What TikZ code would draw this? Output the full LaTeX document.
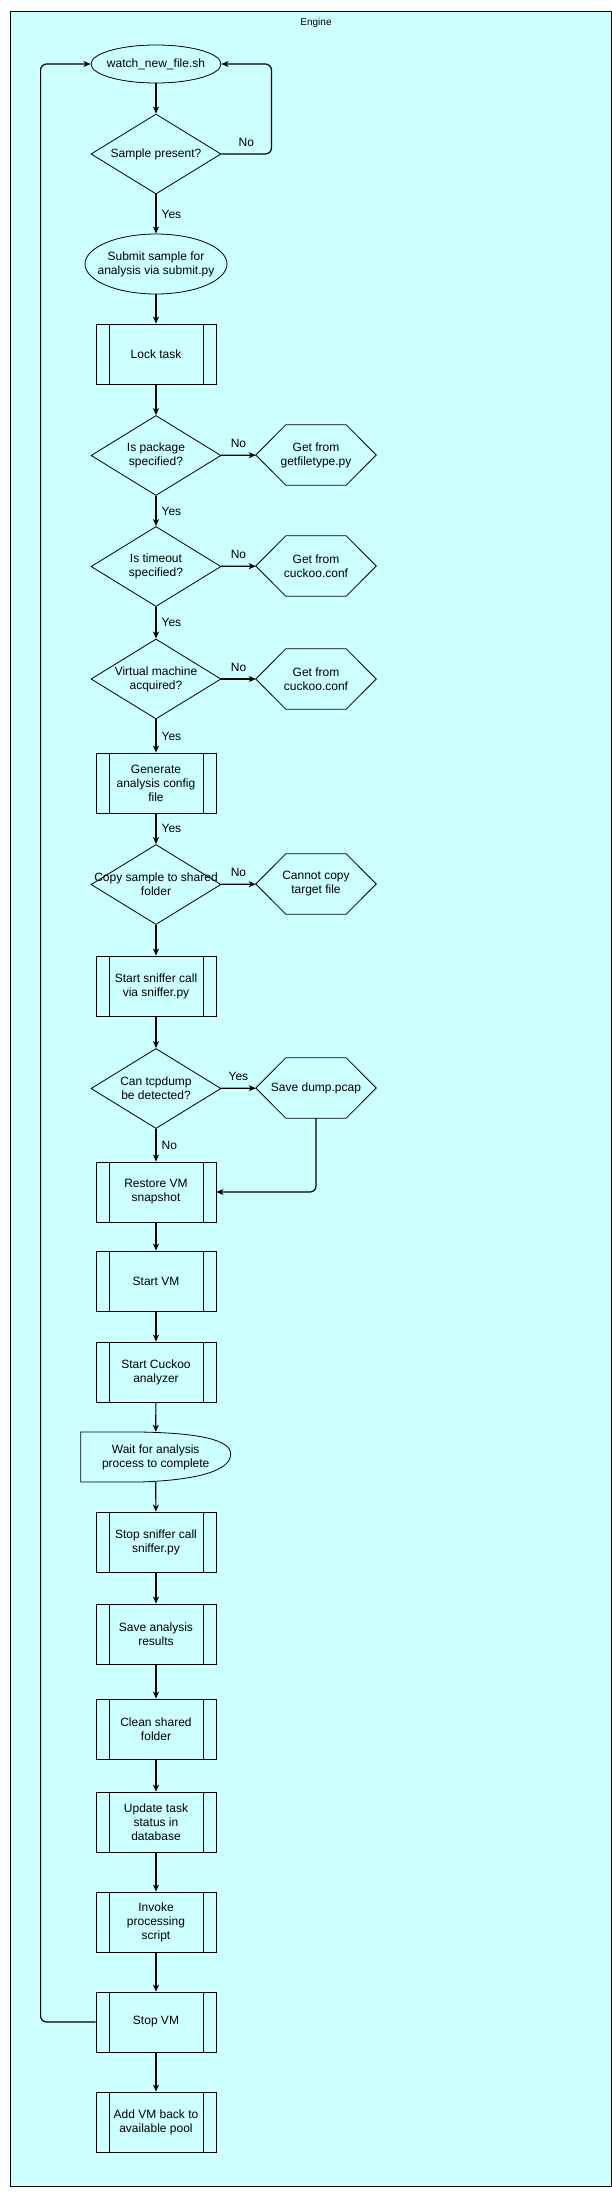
\documentclass[tikz,border=0pt]{standalone}
\usepackage{fontspec}
\setmainfont{Liberation Sans}
\usetikzlibrary{shapes.geometric,arrows.meta}
\definecolor{bgcyan}{HTML}{CCFFFF}
\tikzset{
  every node/.style={font=\fontsize{12}{14}\selectfont},
  outline/.style={draw, line width=0.8pt},
  intext/.style={align=center, inner sep=0pt},
  startend/.style={outline, ellipse, fill=bgcyan, inner sep=0pt},
  decision/.style={outline, diamond, fill=bgcyan, minimum width=130pt, minimum height=80pt, inner sep=0pt},
  subproc/.style={outline, rectangle, fill=bgcyan, align=center, minimum width=120pt, minimum height=60pt,
    path picture={\draw[line width=0.8pt]
      ([xshift=13pt]path picture bounding box.north west) -- ([xshift=13pt]path picture bounding box.south west)
      ([xshift=-13pt]path picture bounding box.north east) -- ([xshift=-13pt]path picture bounding box.south east);}},
  prep/.style={align=center, minimum width=120pt, minimum height=60pt, inner sep=0pt,
    append after command={\pgfextra{\draw[outline] (\tikzlastnode.west) -- ([xshift=30pt]\tikzlastnode.north west)
      -- ([xshift=-30pt]\tikzlastnode.north east) -- (\tikzlastnode.east) -- ([xshift=-30pt]\tikzlastnode.south east)
      -- ([xshift=30pt]\tikzlastnode.south west) -- cycle;}}},
  flow/.style={-{Stealth[length=7pt,width=6pt,inset=2pt]}, line width=1.2pt, rounded corners=6pt},
  lbl/.style={inner sep=2pt},
}
\begin{document}
\begin{tikzpicture}[x=1pt, y=-1pt]
\useasboundingbox (0,0) rectangle (612,2195);
% the engine frame
\draw[outline, fill=bgcyan] (10.5,11) rectangle (611,2186);
\node[font=\fontsize{10}{12}\selectfont] (title) at (316,23) {Engine};

% main column
\node[startend, minimum width=130pt, minimum height=38pt, label={[intext]center:watch\_new\_file.sh}] (watch) at (156,64) {};
\node[decision, label={[intext]center:Sample present?}] (sample) at (156,154) {};
\node[startend, minimum width=142pt, minimum height=60pt, label={[intext]center:Submit sample for\\analysis via submit.py}] (submit) at (156,264) {};
\node[subproc] (lock) at (156,354) {Lock task};
\node[decision, label={[intext]center:Is package\\specified?}] (pkg) at (156,455.5) {};
\node[decision, label={[intext]center:Is timeout\\specified?}] (timeout) at (156,566.5) {};
\node[decision, label={[intext]center:Virtual machine\\acquired?}] (vm) at (156,679) {};
\node[subproc] (config) at (156,783) {Generate\\analysis config\\file};
\node[decision, label={[intext]center:Copy sample to shared\\folder}] (copy) at (156,884.5) {};
\node[subproc] (sniff) at (156,986) {Start sniffer call\\via sniffer.py};
\node[decision, label={[intext]center:Can tcpdump\\be detected?}] (tcp) at (156,1088.5) {};
\node[subproc] (restore) at (156,1192) {Restore VM\\snapshot};
\node[subproc] (startvm) at (156,1281) {Start VM};
\node[subproc] (cuckoo) at (156,1372) {Start Cuckoo\\analyzer};
\node[minimum width=150pt, minimum height=50pt, align=center, inner sep=0pt] (wait) at (155.7,1457) {Wait for analysis\\process to complete};
\draw[outline, shift={(wait.center)}] (-75,-25) -- (-15.7,-25) .. controls (44.3,-24) and (75,-17) .. (75,-3)
  .. controls (75,13) and (44.3,23) .. (-15.7,25) -- (-75,25) -- cycle;
\node[subproc] (stopsniff) at (156,1542) {Stop sniffer call\\sniffer.py};
\node[subproc] (save) at (156,1634) {Save analysis\\results};
\node[subproc] (clean) at (156,1729) {Clean shared\\folder};
\node[subproc] (update) at (156,1822) {Update task\\status in\\database};
\node[subproc] (invoke) at (156,1922) {Invoke\\processing\\script};
\node[subproc] (stopvm) at (156,2022) {Stop VM};
\node[subproc] (addvm) at (156,2122) {Add VM back to\\available pool};

% side column
\node[prep] (pkgget) at (316,455) {Get from\\getfiletype.py};
\node[prep] (timeoutget) at (316,566) {Get from\\cuckoo.conf};
\node[prep] (vmget) at (316,679) {Get from\\cuckoo.conf};
\node[prep] (copyfail) at (316,884) {Cannot copy\\target file};
\node[prep] (dump) at (316,1088) {Save dump.pcap};

% connectors
\draw[flow] (watch) -- (sample);
\draw[flow] (sample.east) -- node[lbl, above=5pt] {No} ++(50,0) |- (watch.east);
\draw[flow] (sample) -- node[lbl, right=3pt] {Yes} (submit);
\foreach \a/\b in {submit/lock, lock/pkg, copy/sniff, sniff/tcp, restore/startvm, startvm/cuckoo,
  cuckoo/wait, wait/stopsniff, stopsniff/save, save/clean, clean/update, update/invoke, invoke/stopvm, stopvm/addvm}
  \draw[flow] (\a) -- (\b);
\foreach \a/\b in {pkg/timeout, timeout/vm, vm/config, config/copy}
  \draw[flow] (\a) -- node[lbl, right=3pt] {Yes} (\b);
\foreach \a/\b in {pkg/pkgget, timeout/timeoutget, vm/vmget, copy/copyfail}
  \draw[flow] (\a) -- node[lbl, above=5pt] {No} (\b);
\draw[flow] (tcp) -- node[lbl, above=5pt] {Yes} (dump);
\draw[flow] (tcp) -- node[lbl, right=3pt] {No} (restore);
\draw[flow] (dump.south) |- (restore.east);
% back to the watcher
\draw[flow] (stopvm.west) -- ++(-55,0) |- (watch.west);
\end{tikzpicture}
\end{document}
